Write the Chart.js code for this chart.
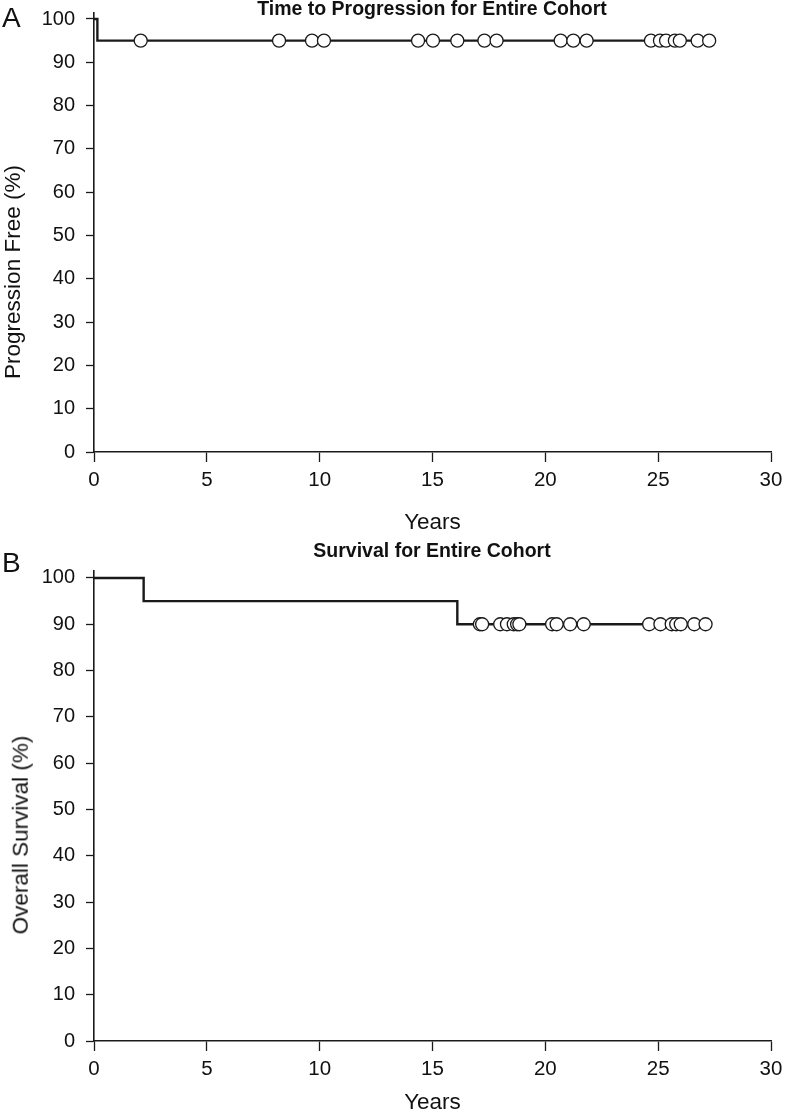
<!DOCTYPE html>
<html><head><meta charset="utf-8">
<script src="https://cdn.jsdelivr.net/npm/chart.js@4/dist/chart.umd.min.js"></script>
<style>
body{margin:0;background:#fff;width:791px;height:1114px;position:relative;overflow:hidden;font-family:"Liberation Sans",Arial,sans-serif}
.wrap{position:absolute;left:0;width:791px}
.lbl{position:absolute;font-size:28px;color:#111;line-height:1}
.ttl{position:absolute;font-weight:bold;font-size:19.5px;color:#111;transform:translateX(-50%);white-space:nowrap;line-height:1}
.ytl{position:absolute;font-size:22.5px;color:#111;white-space:nowrap;line-height:1;transform:translate(-50%,-50%) rotate(-90deg)}
</style></head><body>
<div class="wrap" style="top:0;height:540px"><canvas id="c1"></canvas></div>
<div class="wrap" style="top:540px;height:574px"><canvas id="c2"></canvas></div>
<div class="lbl" style="left:2px;top:4px">A</div>
<div class="ttl" style="left:432px;top:-1px">Time to Progression for Entire Cohort</div>
<div class="ytl" style="left:13px;top:272px">Progression Free (%)</div>
<div class="lbl" style="left:2px;top:549px">B</div>
<div class="ttl" style="left:432px;top:541px">Survival for Entire Cohort</div>
<div class="ytl" style="left:21px;top:835px">Overall Survival (%)</div>
<script>
// ---- data ----
const xTickValues = [0, 5, 10, 15, 20, 25, 30];
const yTickValues = [0, 10, 20, 30, 40, 50, 60, 70, 80, 90, 100];

const pfsStepYears  = [0, 0.15, 27.26];
const pfsStepValues = [100, 95, 95];
const pfsCensorYears  = [2.07, 8.2, 9.66, 10.19, 14.36, 15.02, 16.1, 17.3, 17.84, 20.68, 21.24, 21.83, 24.68, 25.08, 25.35, 25.74, 25.96, 26.75, 27.26];
const pfsCensorValues = [95, 95, 95, 95, 95, 95, 95, 95, 95, 95, 95, 95, 95, 95, 95, 95, 95, 95, 95];

const osStepYears  = [0, 2.2, 16.1, 27.1];
const osStepValues = [100, 95, 90, 90];
const osCensorYears  = [17.1, 17.2, 18.0, 18.3, 18.6, 18.75, 18.85, 20.3, 20.5, 21.1, 21.7, 24.6, 25.1, 25.6, 25.8, 26.0, 26.6, 27.1];
const osCensorValues = [90, 90, 90, 90, 90, 90, 90, 90, 90, 90, 90, 90, 90, 90, 90, 90, 90, 90];

const pts = (xs, ys) => xs.map((x, i) => ({x: x, y: ys[i]}));
const INK = '#1a1a1a';

function makeChart(id, stepX, stepY, cenX, cenY, opts) {
  return new Chart(document.getElementById(id), {
    type: 'scatter',
    data: {
      datasets: [
        {
          data: pts(cenX, cenY), order: 0,
          pointRadius: 6.5, pointHoverRadius: 6.5,
          pointBackgroundColor: '#fff', pointBorderColor: INK, pointBorderWidth: 1.3,
          showLine: false
        },
        {
          type: 'line', data: pts(stepX, stepY), order: 1,
          stepped: 'before', borderColor: INK, borderWidth: 2.4,
          pointRadius: 0, fill: false, tension: 0
        }
      ]
    },
    options: {
      responsive: true, maintainAspectRatio: false, animation: false,
      layout: {padding: {top: opts.padTop, right: 20, left: 0, bottom: 0}},
      plugins: {legend: {display: false}, tooltip: {enabled: false}},
      scales: {
        x: {
          type: 'linear', min: 0, max: 30,
          afterBuildTicks: s => { s.ticks = xTickValues.map(v => ({value: v})); },
          afterFit: s => { s.height = opts.xHeight; },
          grid: {drawOnChartArea: false, drawTicks: true, tickLength: 10, color: INK, tickWidth: 1.3},
          border: {color: INK, width: 1.6},
          ticks: {color: '#111', padding: 6, font: {family: '"Liberation Sans",Arial', size: 20.5}},
          title: {display: true, text: 'Years', color: '#111', padding: {top: 4, bottom: opts.xTitlePadBottom},
                  font: {family: '"Liberation Sans",Arial', size: 22.5, lineHeight: 1}}
        },
        y: {
          type: 'linear', min: 0, max: 101.5,
          afterBuildTicks: s => { s.ticks = yTickValues.map(v => ({value: v})); },
          afterFit: s => { s.width = 94; s.paddingTop = 0; s.paddingBottom = 0; },
          grid: {drawOnChartArea: false, drawTicks: true, tickLength: 8, color: INK, tickWidth: 1.3},
          border: {color: INK, width: 1.6},
          ticks: {color: '#111', padding: 11, font: {family: '"Liberation Sans",Arial', size: 20}},
          title: {display: false}
        }
      }
    }
  });
}

makeChart('c1', pfsStepYears, pfsStepValues, pfsCensorYears, pfsCensorValues,
  {padTop: 12.5, xHeight: 88, xTitlePadBottom: 6});
makeChart('c2', osStepYears, osStepValues, osCensorYears, osCensorValues,
  {padTop: 31, xHeight: 73, xTitlePadBottom: 0});
</script>
</body></html>
